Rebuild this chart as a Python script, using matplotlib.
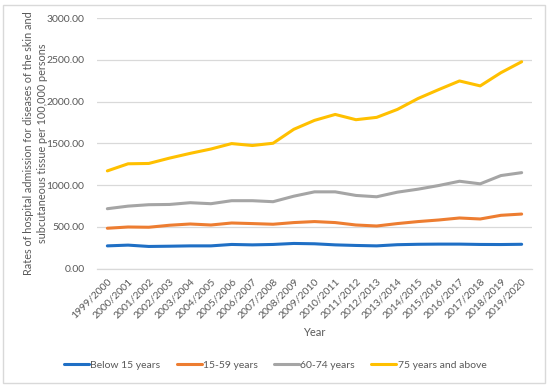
import matplotlib
matplotlib.use("Agg")
import matplotlib.pyplot as plt
from matplotlib.patches import Rectangle

years = ["1999/2000", "2000/2001", "2001/2002", "2002/2003", "2003/2004", "2004/2005",
         "2005/2006", "2006/2007", "2007/2008", "2008/2009", "2009/2010", "2010/2011",
         "2011/2012", "2012/2013", "2013/2014", "2014/2015", "2015/2016", "2016/2017",
         "2017/2018", "2018/2019", "2019/2020"]

below15 = [271, 280, 264, 267, 271, 271, 288, 283, 288, 300, 296, 283,
           276, 271, 285, 290, 292, 292, 288, 287, 290]
age15_59 = [482, 497, 494, 518, 533, 521, 545, 538, 530, 550, 562, 550,
            521, 509, 538, 562, 581, 605, 593, 637, 652]
age60_74 = [716, 747, 764, 767, 788, 776, 812, 812, 800, 866, 918, 918,
            875, 859, 914, 950, 994, 1045, 1014, 1113, 1148]
age75 = [1169, 1254, 1258, 1322, 1379, 1431, 1496, 1473, 1500, 1667, 1774, 1845,
         1782, 1810, 1905, 2036, 2143, 2246, 2187, 2345, 2476]

series = [("Below 15 years", below15, "#1F6FC5"),
          ("15-59 years", age15_59, "#ED7D31"),
          ("60-74 years", age60_74, "#A5A5A5"),
          ("75 years and above", age75, "#FFC000")]

yticks = [0, 500, 1000, 1500, 2000, 2500, 3000]

plt.rcParams['font.family'] = ['Lato', 'DejaVu Sans']
txt = "#595959"

fig = plt.figure(figsize=(5.5, 3.86), dpi=100)
ax = fig.add_axes([97/550, 1-268.5/386, 435/550, 250.5/386])

x = list(range(len(years)))
for name, vals, col in series:
    ax.plot(x, vals, color=col, lw=2.2, label=name, solid_capstyle='round')

ax.set_xlim(-0.5, len(years) - 0.5)
ax.set_ylim(0, 3000)
ax.set_yticks(yticks)
ax.set_yticklabels([f"{v:.2f}" for v in yticks], color=txt, fontsize=7.5)
ax.set_xticks(x)
ax.set_xticklabels(years, rotation=45, ha='right', rotation_mode='anchor',
                   color=txt, fontsize=7.5)
ax.tick_params(axis='y', length=0, pad=9)
ax.tick_params(axis='x', length=0, pad=6)
ax.grid(axis='y', color='#D9D9D9', lw=0.9)
ax.set_axisbelow(True)
for s in ['top', 'right', 'left']:
    ax.spines[s].set_visible(False)
ax.spines['bottom'].set_color('#D9D9D9')
ax.spines['bottom'].set_linewidth(0.9)

ax.set_xlabel("Year", color=txt, fontsize=8, labelpad=5)
ax.set_ylabel("Rates of hospital admission for diseases of the skin and\n"
              "subcutaneous tissue per 100,000 persons", color=txt, fontsize=7.8,
              linespacing=1.4, va='center')
ax.yaxis.set_label_coords(-0.141, 0.5)

fig.legend(loc='center', bbox_to_anchor=(0.5, 1-365/386), ncol=4, frameon=False,
           fontsize=7.5, labelcolor=txt, handlelength=2.4, handletextpad=0.1,
           columnspacing=1.6)

fig.patches.append(Rectangle((3/550, 3/386), 542/550, 378/386, transform=fig.transFigure,
                             fill=False, edgecolor='#D9D9D9', lw=1))

fig.savefig("out.png", dpi=100)
